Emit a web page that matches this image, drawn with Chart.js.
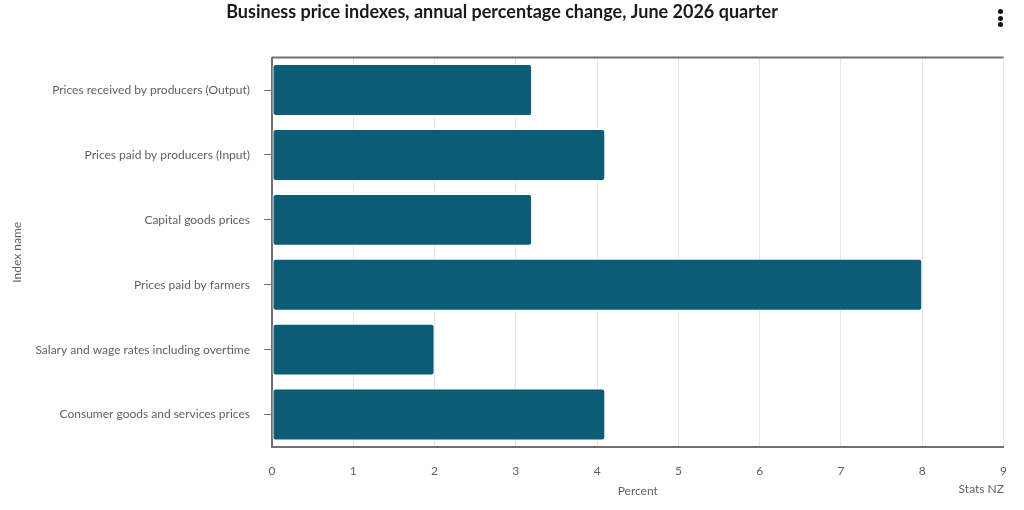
<!DOCTYPE html>
<html>
<head>
<meta charset="utf-8">
<script src="https://cdn.jsdelivr.net/npm/chart.js@4.4.1/dist/chart.umd.min.js"></script>
<style>
  html, body { margin: 0; padding: 0; background: #ffffff; }
  #wrap { position: relative; width: 1024px; height: 510px; }
  #credit { position: absolute; right: 20px; top: 481px; font: 12px Lato, "Open Sans", sans-serif; color: #5f5f5f; }
  #menu { position: absolute; left: 998px; top: 9px; width: 10px; }
  #menu span { display: block; width: 5px; height: 5px; border-radius: 50%; background: #111; margin: 0 0 1.5px 0; }
</style>
</head>
<body>
<div id="wrap">
  <canvas id="c" width="1024" height="510"></canvas>
  <div id="credit">Stats NZ</div>
  <div id="menu"><span></span><span></span><span></span></div>
</div>
<script>
const categories = [
  "Prices received by producers (Output)",
  "Prices paid by producers (Input)",
  "Capital goods prices",
  "Prices paid by farmers",
  "Salary and wage rates including overtime",
  "Consumer goods and services prices"
];
const percentChange = [3.2, 4.1, 3.2, 8.0, 2.0, 4.1];
const xTicks = [0, 1, 2, 3, 4, 5, 6, 7, 8, 9];

const chartTitle = "Business price indexes, annual percentage change, June 2026 quarter";
const xTitle = "Percent";
const yTitle = "Index name";

const AXIS = '#707070';
const LABEL = '#5f5f5f';

const topBorder = {
  id: 'topBorder',
  afterDraw(chart) {
    const {ctx, chartArea} = chart;
    ctx.save();
    ctx.strokeStyle = AXIS;
    ctx.lineWidth = 2;
    ctx.beginPath();
    ctx.moveTo(chartArea.left, chartArea.top);
    ctx.lineTo(chartArea.right, chartArea.top);
    ctx.stroke();
    ctx.restore();
  }
};

new Chart(document.getElementById('c'), {
  type: 'bar',
  data: {
    labels: categories,
    datasets: [{
      data: percentChange,
      backgroundColor: '#0b5c75',
      borderColor: '#ffffff',
      borderWidth: 1,
      borderRadius: 3,
      borderSkipped: false,
      barPercentage: 0.8,
      categoryPercentage: 1.0
    }]
  },
  options: {
    indexAxis: 'y',
    responsive: false,
    animation: false,
    layout: { padding: { left: 0, right: 20, top: 0, bottom: 0 } },
    plugins: {
      legend: { display: false },
      tooltip: { enabled: false },
      title: {
        display: true,
        text: chartTitle,
        color: '#1a1a1a',
        font: { family: 'Lato', size: 18, weight: 'bold' },
        padding: { top: 1, bottom: 35 }
      }
    },
    scales: {
      x: {
        type: 'linear',
        min: 0,
        max: 9,
        afterBuildTicks(scale) { scale.ticks = xTicks.map(v => ({ value: v })); },
        afterFit(scale) { scale.height = 63; },
        grid: { color: '#e6e6e6', lineWidth: 1, drawTicks: false },
        border: { color: AXIS, width: 2 },
        ticks: { color: LABEL, font: { family: 'Lato', size: 12 }, padding: 17 },
        title: { display: true, text: xTitle, color: LABEL, font: { family: 'Lato', size: 12 }, padding: { top: 0, bottom: 12 } }
      },
      y: {
        afterFit(scale) { scale.width = 272; },
        grid: { display: true, offset: false, drawOnChartArea: false, drawTicks: true, tickLength: 8, color: AXIS },
        border: { color: AXIS, width: 2 },
        ticks: { color: LABEL, font: { family: 'Lato', size: 12 }, padding: 14 },
        title: { display: true, text: yTitle, color: LABEL, font: { family: 'Lato', size: 12 }, padding: { top: 10, bottom: 0 } }
      }
    }
  },
  plugins: [topBorder]
});
</script>
</body>
</html>
